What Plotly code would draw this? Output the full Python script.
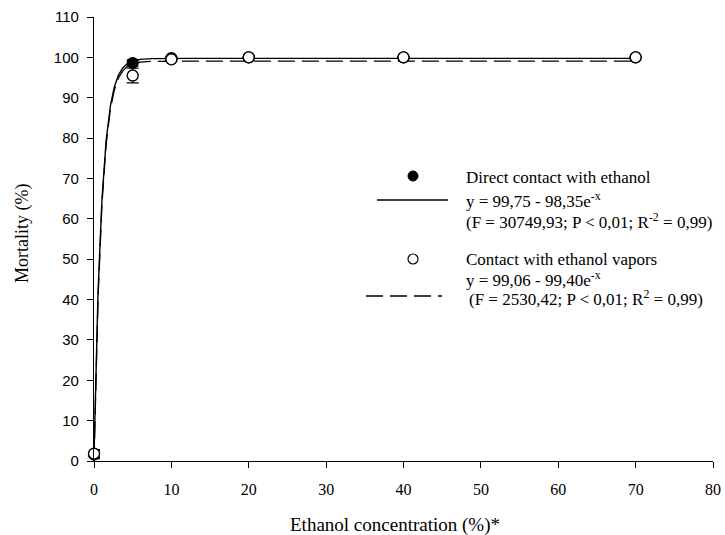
import numpy as np
import plotly.graph_objects as go

# Ethanol concentration (%) tested
conc = [0, 5, 10, 20, 40, 70]

# Mean mortality (%) and standard errors, direct contact with ethanol
direct_mort = [1.6, 98.6, 99.8, 100.0, 100.0, 100.0]
direct_err = [1.0, 0.8, 0.3, 0.0, 0.0, 0.0]

# Mean mortality (%) and standard errors, contact with ethanol vapors
vapor_mort = [1.8, 95.5, 99.5, 100.0, 100.0, 100.0]
vapor_err = [1.0, 1.8, 0.4, 0.0, 0.0, 0.0]

# Fitted models y = a - b*exp(-x)
direct_fit = (99.75, 98.35)
vapor_fit = (99.06, 99.40)

x_ticks = [0, 10, 20, 30, 40, 50, 60, 70, 80]
y_ticks = [0, 10, 20, 30, 40, 50, 60, 70, 80, 90, 100, 110]

W, H = 725, 535
ML, MR, MT, MB = 94, 12, 17, 74
PW, PH = W - ML - MR, H - MT - MB

SERIF = "Liberation Serif"
SANS = "Liberation Sans"


def px(xp):
    return (xp - ML) / PW


def py(yp):
    return (H - MB - yp) / PH


xs = np.linspace(0, 70, 1401)
y_direct = direct_fit[0] - direct_fit[1] * np.exp(-xs)
y_vapor = vapor_fit[0] - vapor_fit[1] * np.exp(-xs)

fig = go.Figure()

fig.add_trace(go.Scatter(x=xs, y=y_vapor, mode="lines",
                         line=dict(color="black", width=1.3, dash="17px,7px"),
                         hoverinfo="skip"))
fig.add_trace(go.Scatter(x=xs, y=y_direct, mode="lines",
                         line=dict(color="black", width=1.4),
                         hoverinfo="skip"))

fig.add_trace(go.Scatter(
    x=conc, y=direct_mort, mode="markers",
    marker=dict(symbol="circle", size=11, color="black",
                line=dict(color="black", width=1.2)),
    error_y=dict(type="data", array=direct_err, color="black",
                 thickness=1.2, width=6),
    cliponaxis=False))

fig.add_trace(go.Scatter(
    x=conc, y=vapor_mort, mode="markers",
    marker=dict(symbol="circle", size=11, color="white",
                line=dict(color="black", width=1.4)),
    error_y=dict(type="data", array=vapor_err, color="black",
                 thickness=1.2, width=6),
    cliponaxis=False))

# Legend drawn as shapes and text blocks
shapes = [
    dict(type="circle", xref="paper", yref="paper", xsizemode="pixel",
         ysizemode="pixel", xanchor=px(413), yanchor=py(176),
         x0=-5, x1=5, y0=-5, y1=5, fillcolor="black",
         line=dict(color="black", width=1)),
    dict(type="line", xref="paper", yref="paper",
         x0=px(377), x1=px(448), y0=py(200), y1=py(200),
         line=dict(color="black", width=1.4)),
    dict(type="circle", xref="paper", yref="paper", xsizemode="pixel",
         ysizemode="pixel", xanchor=px(413), yanchor=py(259),
         x0=-5, x1=5, y0=-5, y1=5, fillcolor="white",
         line=dict(color="black", width=1.2)),
    dict(type="line", xref="paper", yref="paper",
         x0=px(366), x1=px(442), y0=py(296), y1=py(296),
         line=dict(color="black", width=1.3, dash="17px,7px")),
]

legend_lines = [
    (464, 178, "Direct contact with ethanol"),
    (464, 200, "y = 99,75 - 98,35e<sup>-x</sup>"),
    (464, 221, "(F = 30749,93; P < 0,01; R<sup>-2</sup> = 0,99)"),
    (464, 259, "Contact with ethanol vapors"),
    (464, 279, "y = 99,06 - 99,40e<sup>-x</sup>"),
    (467, 298, "(F = 2530,42; P < 0,01; R<sup>2</sup> = 0,99)"),
]

annotations = []
for xp, yp, txt in legend_lines:
    annotations.append(dict(
        xref="paper", yref="paper", x=px(xp), y=py(yp), text=txt,
        showarrow=False, xanchor="left", yanchor="middle",
        font=dict(family=SERIF, size=17, color="black")))

annotations.append(dict(
    xref="paper", yref="paper", x=px(395), y=py(525),
    text="Ethanol concentration (%)*", showarrow=False,
    xanchor="center", yanchor="middle",
    font=dict(family=SERIF, size=19, color="black")))
annotations.append(dict(
    xref="paper", yref="paper", x=px(22), y=py(234),
    text="Mortality (%)", showarrow=False, textangle=-90,
    xanchor="center", yanchor="middle",
    font=dict(family=SERIF, size=18, color="black")))

fig.update_layout(
    width=W, height=H,
    margin=dict(l=ML, r=MR, t=MT, b=MB, autoexpand=False),
    paper_bgcolor="white", plot_bgcolor="white",
    showlegend=False,
    shapes=shapes, annotations=annotations,
    xaxis=dict(range=[0, 80], tickvals=x_ticks,
               ticktext=[str(v) for v in x_ticks],
               automargin=False,
               showgrid=False, zeroline=False, showline=True,
               linecolor="black", linewidth=1.3,
               ticks="outside", ticklen=6, tickwidth=1.3, tickcolor="black",
               ticklabelstandoff=8,
               tickfont=dict(family=SERIF, size=16, color="black")),
    yaxis=dict(range=[0, 110], tickvals=y_ticks,
               ticktext=[str(v) for v in y_ticks],
               automargin=False,
               showgrid=False, zeroline=False, showline=True,
               linecolor="black", linewidth=1.3,
               ticks="outside", ticklen=6, tickwidth=1.3, tickcolor="black",
               ticklabelstandoff=5,
               tickfont=dict(family=SANS, size=15, color="black")),
)

fig.write_html("out.html")
